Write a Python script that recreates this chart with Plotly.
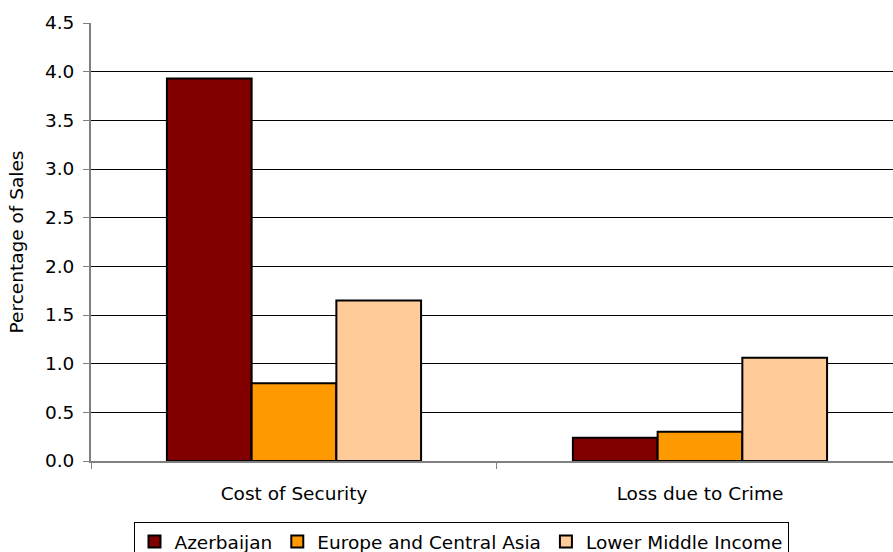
import plotly.graph_objects as go

categories = ["Cost of Security", "Loss due to Crime"]
series_names = ["Azerbaijan", "Europe and Central Asia", "Lower Middle Income"]
azerbaijan = [3.93, 0.24]
europe_central_asia = [0.80, 0.30]
lower_middle_income = [1.65, 1.06]
colors = ["#800000", "#FF9900", "#FFCC99"]
y_ticks = [0.0, 0.5, 1.0, 1.5, 2.0, 2.5, 3.0, 3.5, 4.0, 4.5]

FONT = "Tahoma, 'DejaVu Sans', sans-serif"
FS = 18.5

fig = go.Figure()
for name, vals, col in zip(series_names, [azerbaijan, europe_central_asia, lower_middle_income], colors):
    fig.add_trace(go.Bar(
        x=categories, y=vals, name=name,
        marker=dict(color=col, line=dict(color="black", width=2)),
    ))

fig.update_layout(
    width=893, height=552,
    margin=dict(l=91, r=0, t=23, b=91, autoexpand=False),
    paper_bgcolor="white", plot_bgcolor="white",
    barmode="group", bargap=0.374, bargroupgap=0,
    font=dict(family=FONT, size=FS, color="black"),
    showlegend=True,
    legend=dict(
        orientation="h", xref="container", yref="container",
        x=461 / 893, xanchor="center", y=30 / 552, yanchor="top",
        bordercolor="black", borderwidth=1, bgcolor="white",
        font=dict(family=FONT, size=FS, color="black"),
        itemwidth=30, tracegroupgap=0,
    ),
    xaxis=dict(
        type="category", range=[-0.5, 1.4754],
        showline=True, linecolor="#808080", linewidth=2,
        ticks="outside", tickson="boundaries", ticklen=6, tickcolor="#808080",
        showgrid=False, tickfont=dict(size=FS), ticklabelstandoff=15,
    ),
    yaxis=dict(
        range=[0, 4.5], tickvals=y_ticks, ticktext=[f"{v:.1f}" for v in y_ticks],
        showline=True, linecolor="#808080", linewidth=2,
        ticks="outside", ticklen=6, tickcolor="#808080",
        showgrid=True, gridcolor="black", gridwidth=1,
        zeroline=False, tickfont=dict(size=FS), ticklabelstandoff=5,
        title=dict(text="Percentage of Sales", font=dict(size=FS), standoff=16),
    ),
)

fig.write_html("out.html")
